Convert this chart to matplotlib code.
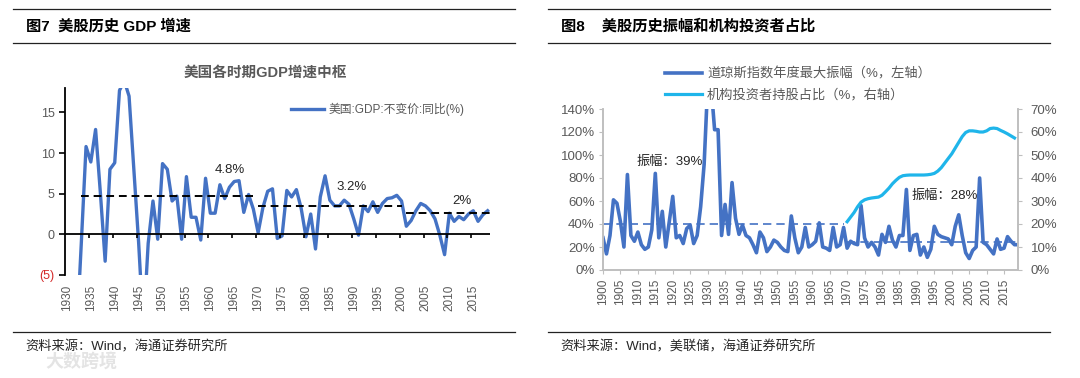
import matplotlib
matplotlib.use('Agg')
import matplotlib.pyplot as plt
from matplotlib.lines import Line2D

plt.rcParams['font.family'] = ['Liberation Sans', 'Noto Sans CJK SC']

# ---- fig 7 data: US real GDP yoy (%) ----
gdp_years = list(range(1930, 2019))
gdp_growth = [-8.5, -6.4, -12.9, -1.2, 10.8, 8.9, 12.9, 5.1, -3.3, 8.0,
              8.8, 17.7, 18.9, 17.0, 8.0, -1.0, -11.6, -1.1, 4.1, -0.6,
              8.7, 8.0, 4.1, 4.7, -0.6, 7.1, 2.1, 2.1, -0.7, 6.9,
              2.6, 2.6, 6.1, 4.4, 5.8, 6.5, 6.6, 2.7, 4.9, 3.1,
              0.2, 3.3, 5.3, 5.6, -0.5, -0.2, 5.4, 4.6, 5.5, 3.2,
              -0.3, 2.5, -1.8, 4.6, 7.2, 4.2, 3.5, 3.5, 4.2, 3.7,
              1.9, -0.1, 3.5, 2.8, 4.0, 2.7, 3.8, 4.4, 4.5, 4.8,
              4.1, 1.0, 1.7, 2.9, 3.8, 3.5, 2.9, 1.9, -0.1, -2.5,
              2.6, 1.6, 2.2, 1.8, 2.5, 2.9, 1.6, 2.4, 2.9]
gdp_period_start = [1933, 1970, 2001]
gdp_period_end = [1969, 2000, 2018.5]
gdp_period_mean = [4.7, 3.45, 2.6]
gdp_period_text = ['4.8%', '3.2%', '2%']
gdp_xticks = list(range(1930, 2016, 5))
gdp_yticks = [-5, 0, 5, 10, 15]
gdp_ylabels = ['(5)', '0', '5', '10', '15']

# ---- fig 8 data ----
djia_years = list(range(1900, 2020))
djia_amp = [28, 14, 30, 61, 58, 42, 20, 83, 30, 25,
            33, 22, 18, 20, 35, 84, 28, 51, 20, 42,
            64, 28, 30, 23, 36, 39, 23, 30, 55, 92,
            160, 160, 122, 122, 30, 57, 31, 76, 45, 31,
            39, 30, 28, 22, 15, 33, 28, 16, 20, 26,
            24, 20, 17, 16, 47, 28, 15, 20, 37, 20,
            22, 25, 41, 20, 19, 17, 37, 20, 22, 37,
            19, 25, 23, 22, 56, 28, 20, 24, 20, 13,
            31, 24, 38, 26, 20, 30, 30, 70, 17, 30,
            31, 13, 20, 11, 18, 38, 31, 29, 28, 27,
            22, 38, 48, 30, 15, 10, 17, 20, 80, 24,
            22, 18, 14, 27, 18, 19, 29, 25, 22, 22]
inst_years = list(range(1970, 2019))
inst_share = [21, 23, 25, 27.5, 29.5, 30.5, 31, 31.3, 31.5, 31.7,
              32.5, 34, 35.6, 37.5, 39, 40.3, 41, 41.2, 41.3, 41.3,
              41.3, 41.3, 41.3, 41.4, 41.6, 42, 43, 44.5, 46.5, 48.5,
              50.5, 53, 55.5, 58, 59.8, 60.5, 60.5, 60.3, 60, 60,
              60.5, 61.5, 61.7, 61.5, 60.7, 60, 59.2, 58.3, 57.4]
amp_period_start = [1900, 1970]
amp_period_end = [1969, 2019]
amp_period_mean = [40, 24]
amp_period_text = ['振幅：39%', '振幅：28%']
amp_xticks = list(range(1900, 2016, 5))
amp_yticks = list(range(0, 141, 20))
inst_yticks = list(range(0, 71, 10))

W, H = 1080, 378
fig = plt.figure(figsize=(W / 100, H / 100), dpi=100)


def fx(px):
    return px / W


def fy(py):
    return 1 - py / H


GRAY = '#595959'
BLUE = '#4472C4'
CYAN = '#1FB5EA'

# frame lines and headers
for x0, x1 in [(13, 515), (548, 1050)]:
    for yy in [9, 43, 332]:
        fig.add_artist(Line2D([fx(x0), fx(x1)], [fy(yy), fy(yy)], color='#222222', lw=0.9))
fig.text(fx(26), fy(26), '图7  美股历史 GDP 增速', fontsize=11, fontweight='bold', va='center')
fig.text(fx(561), fy(26), '图8    美股历史振幅和机构投资者占比', fontsize=11, fontweight='bold', va='center')
fig.text(fx(25), fy(347), '资料来源：Wind，海通证券研究所', fontsize=9.5, va='center', color='#262626')
fig.text(fx(560), fy(347), '资料来源：Wind，美联储，海通证券研究所', fontsize=9.5, va='center', color='#262626')
fig.text(fx(45), fy(362), '大数跨境', fontsize=13, fontweight='bold', va='center', color='#e4e4e4')

# ---------------- fig 7 ----------------
ax1 = fig.add_axes([fx(65), fy(275), fx(490) - fx(65), fy(88) - fy(275)])
ax1.plot(gdp_years, gdp_growth, color=BLUE, lw=2.4, solid_joinstyle='round')
for s, e, m in zip(gdp_period_start, gdp_period_end, gdp_period_mean):
    ax1.hlines(m, s, e, colors='black', linestyles=(0, (4, 2.5)), lw=1.4)
ax1.axhline(0, color='black', lw=1.3)
ax1.vlines([t - 0.4 for t in gdp_xticks[1:]], -0.5, 0, colors='black', lw=1.2)
ax1.text(1964, 7.9, gdp_period_text[0], ha='center', va='center', fontsize=9.5, color='#262626')
ax1.text(1989.6, 5.8, gdp_period_text[1], ha='center', va='center', fontsize=9.5, color='#262626')
ax1.text(2012.6, 4.1, gdp_period_text[2], ha='center', va='center', fontsize=9.5, color='#262626')
ax1.set_xlim(1929.6, 2018.5)
ax1.set_ylim(-5, 18)
for sp in ['top', 'right', 'bottom']:
    ax1.spines[sp].set_visible(False)
ax1.spines['left'].set_linewidth(1.3)
ax1.set_xticks(gdp_xticks)
ax1.set_xticklabels([str(t) for t in gdp_xticks], rotation=90, fontsize=8.5, color=GRAY)
ax1.tick_params(axis='x', length=0, pad=7)
ax1.set_yticks(gdp_yticks)
ax1.set_yticklabels(gdp_ylabels, fontsize=9, color=GRAY)
ax1.get_yticklabels()[0].set_color('#D42A2A')
ax1.tick_params(axis='y', length=4, width=1.2, direction='out')
fig.text(fx(265), fy(73), '美国各时期GDP增速中枢', ha='center', va='center',
         fontsize=10.5, fontweight='bold', color=GRAY)
ax1.legend([Line2D([], [], color=BLUE, lw=2.4)], ['美国:GDP:不变价:同比(%)'],
           loc='center left', bbox_to_anchor=(fx(280), fy(109)), bbox_transform=fig.transFigure,
           frameon=False, handlelength=2.8, handletextpad=0.4, fontsize=8.5, labelcolor=GRAY)

# ---------------- fig 8 ----------------
ax2 = fig.add_axes([fx(603), fy(270), fx(1018) - fx(603), fy(109) - fy(270)])
ax2r = ax2.twinx()
l1, = ax2.plot(djia_years, djia_amp, color=BLUE, lw=2.6, solid_joinstyle='round')
for s, e, m in zip(amp_period_start, amp_period_end, amp_period_mean):
    ax2.hlines(m, s, e, colors=BLUE, linestyles=(0, (5, 3)), lw=1.2)
l2, = ax2r.plot(inst_years, inst_share, color=CYAN, lw=2.3, solid_joinstyle='round')
ax2.text(1919.2, 94, amp_period_text[0], ha='center', va='center', fontsize=9.5, color='#262626')
ax2.text(1998, 64.5, amp_period_text[1], ha='center', va='center', fontsize=9.5, color='#262626')
ax2.set_xlim(1900, 2019)
ax2.set_ylim(0, 140)
ax2r.set_ylim(0, 70)
for a in (ax2, ax2r):
    a.spines['top'].set_visible(False)
    for sp in ['left', 'right', 'bottom']:
        a.spines[sp].set_color('#BFBFBF')
        a.spines[sp].set_linewidth(1.2)
ax2.set_xticks(amp_xticks)
ax2.set_xticklabels([str(t) for t in amp_xticks], rotation=90, fontsize=8.5, color=GRAY)
ax2.tick_params(axis='x', length=3, color='#BFBFBF', pad=3)
ax2.set_yticks(amp_yticks)
ax2.set_yticklabels([f'{v}%' for v in amp_yticks], fontsize=9.5, color=GRAY)
ax2.tick_params(axis='y', length=3, color='#BFBFBF', pad=3)
ax2r.set_yticks(inst_yticks)
ax2r.set_yticklabels([f'{v}%' for v in inst_yticks], fontsize=9.5, color=GRAY)
ax2r.tick_params(axis='y', length=3, color='#BFBFBF', pad=6)
ax2.legend([l1, l2], ['道琼斯指数年度最大振幅（%，左轴）', '机构投资者持股占比（%，右轴）'],
           loc='upper left', bbox_to_anchor=(fx(653), fy(56)), bbox_transform=fig.transFigure,
           frameon=False, handlelength=2.8, handletextpad=0.4, labelspacing=0.55,
           fontsize=9.5, labelcolor=GRAY)

fig.savefig('out.png', dpi=100)
